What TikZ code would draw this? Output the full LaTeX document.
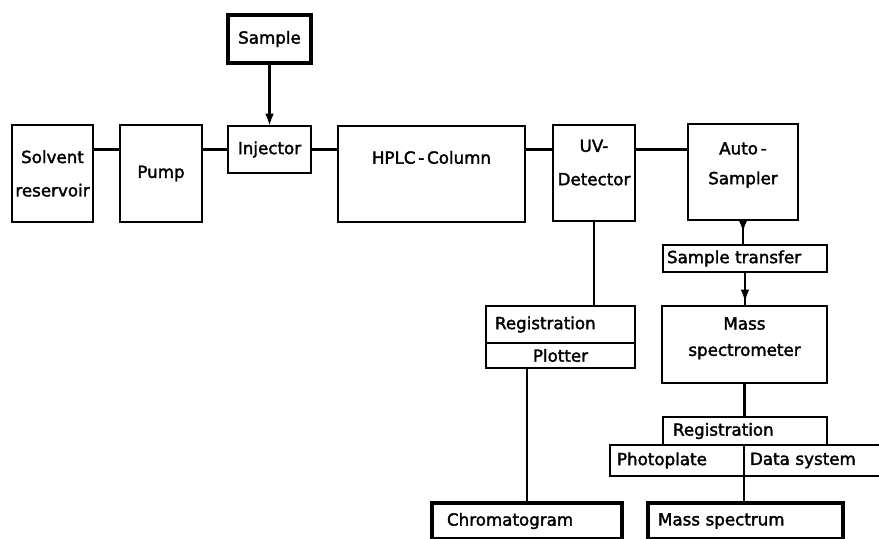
\documentclass[tikz,border=0pt]{standalone}
\usepackage{fontspec}
\setmainfont[FakeBold=2]{DejaVu Sans}
\usetikzlibrary{%
	calc,%
	arrows.meta,%
	decorations.markings
}
\tikzset{
	unitbox/.style={draw, line width=1.3pt, outer sep=0pt, inner sep=0pt, align=center, font=\fontsize{9.5}{19}\selectfont},
	thickbox/.style={unitbox, line width=2.3pt},
	lefttext/.style 2 args={align=left, text width=#1, inner xsep=#2},
	link/.style={line width=1.3pt},
	midarrow/.style={postaction={decorate}, decoration={markings, mark=at position #1 with {\arrow{Latex[length=7pt,width=5pt]}}}}
}

\begin{document}
\begin{tikzpicture}[x=0.02cm, y=-0.02cm]
		\clip (0,0) rectangle (879,538);
		
		% chromatograph line
		\node[thickbox, minimum width=1.66cm, minimum height=0.96cm] (sample) at (269.5,39) {Sample};
		\node[unitbox, minimum width=1.62cm, minimum height=1.94cm] (solv) at (52.5,173.5) {Solvent\\reservoir};
		\node[unitbox, minimum width=1.64cm, minimum height=1.94cm] (pump) at (161,173.5) {Pump};
		\node[unitbox, minimum width=1.66cm, minimum height=0.94cm] (inj) at (269.5,149.5) {Injector};
		\node[unitbox, minimum width=3.74cm, minimum height=1.92cm] (hplc) at (431.5,174) {HPLC\,-\,Column\\\mbox{}};
		\node[unitbox, minimum width=1.64cm, minimum height=1.92cm, text depth=12pt] (uv) at (594,173) {UV-\\Detector};
		\node[unitbox, minimum width=2.2cm, minimum height=1.92cm, text depth=10pt, font=\fontsize{9.5}{17}\selectfont] (auto) at (743,172) {Auto\,-\\Sampler};
		
		% recording, UV branch
		\node[unitbox, lefttext={2.62cm}{0.18cm}, minimum height=0.74cm] (regl) at (560.5,324.5) {Registration};
		\node[unitbox, minimum width=2.98cm, minimum height=0.5cm] (plot) at (560.5,355.5) {Plotter};
		\node[thickbox, lefttext={3.2cm}{0.3cm}, minimum height=0.72cm] (chrom) at (527,521) {Chromatogram};
		
		% mass spectrometer branch
		\node[unitbox, lefttext={3.12cm}{0.08cm}, minimum height=0.54cm] (st) at (745,258.5) {Sample transfer};
		\node[unitbox, minimum width=3.3cm, minimum height=1.54cm, text depth=9pt, font=\fontsize{9.5}{15}\selectfont] (ms) at (744.5,344.5) {Mass\\spectrometer};
		\node[unitbox, lefttext={2.88cm}{0.2cm}, minimum height=0.56cm] (regr) at (745,431) {Registration};
		\node[unitbox, lefttext={2.4cm}{0.14cm}, minimum height=0.62cm] (photo) at (677,460.5) {Photoplate};
		\node[unitbox, lefttext={2.78cm}{0.12cm}, minimum height=0.62cm] (datasys) at (819.5,460.5) {Data system};
		\node[thickbox, lefttext={3.5cm}{0.2cm}, minimum height=0.72cm] (mspec) at (745.5,521) {Mass spectrum};
		
		\draw[link] (solv.east |- inj.west) -- (pump.west |- inj.west);
		\draw[link] (pump.east |- inj.west) -- (inj.west);
		\draw[link] (inj.east) -- (hplc.west |- inj.east);
		\draw[link] (hplc.east |- inj.east) -- (uv.west |- inj.east);
		\draw[link] (uv.east |- inj.east) -- (auto.west |- inj.east);
		\draw[link, -{Latex[length=7pt,width=5pt]}] (sample.south) -- (inj.north);
		
		\draw[link] (uv.south) -- (uv.south |- regl.north);
		\draw[link] (plot.south -| chrom.north) -- (chrom.north);
		
		\draw[link, midarrow=0.5] (auto.south) -- (auto.south |- st.north);
		\draw[link, midarrow=0.88] (st.south) -- (st.south |- ms.north);
		\draw[link] (ms.south) -- (ms.south |- regr.north);
		\draw[link] (photo.south east) -- (photo.south east |- mspec.north);
	\end{tikzpicture}
\end{document}
